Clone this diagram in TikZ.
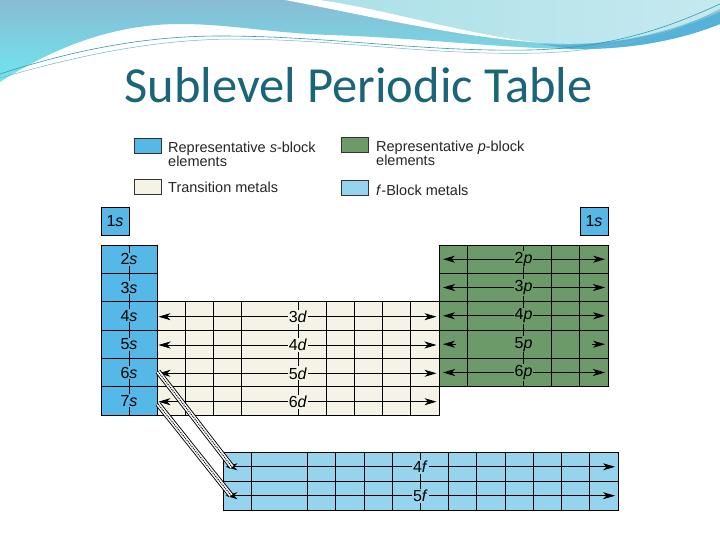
\documentclass[tikz,border=0pt]{standalone}
\usepackage{fontspec}
\setmainfont{Liberation Sans}
\newfontfamily\titlefont{Carlito}
\usetikzlibrary{arrows.meta}
\definecolor{hdrblue}{HTML}{88BCD4}
\definecolor{hdrcyan}{HTML}{6FE6EF}
\definecolor{hdrlight}{HTML}{ACE0E8}
\definecolor{hdrband}{HTML}{55B3DA}
\definecolor{strand}{HTML}{3A98AC}
\definecolor{titleteal}{HTML}{1A6579}
\definecolor{sblue}{HTML}{55B8E6}
\definecolor{fblue}{HTML}{96D3EC}
\definecolor{pgreen}{HTML}{6C9A68}
\definecolor{cream}{HTML}{F4F3E6}
\tikzset{
	cell/.style={black, line width=0.8pt},
	tip/.style={line width=0.8pt, -{Stealth[length=12pt,width=7pt,inset=3.5pt]}},
	rowarrow/.style={line width=0.8pt, {Stealth[length=12pt,width=7pt,inset=3.5pt]}-{Stealth[length=12pt,width=7pt,inset=3.5pt]}},
	lbl/.style={inner sep=1pt, font=\fontsize{16}{16}\selectfont},
	swatch/.style={draw=black!80, line width=0.6pt, minimum width=27pt, minimum height=15pt, inner sep=0pt},
	legtext/.style={anchor=base west, inner sep=0pt, text=black!85, font=\fontsize{14.5}{14.5}\selectfont},
	band/.style={black, line width=5.6pt, postaction={draw, white, line width=3.8pt}, postaction={draw, black, line width=1pt, dash pattern=on 1pt off 1pt}}
}
\begin{document}
\begin{tikzpicture}[x=1pt, y=-1pt]
	\useasboundingbox (0,0) rectangle (720,540);
	\fill[white] (0,0) rectangle (720,540);

	% header waves
	\shade[top color=hdrblue, bottom color=hdrcyan] (0,0) -- (720,0) -- (720,24) .. controls (680,40) and (630,50) .. (570,49) .. controls (500,48) and (420,38) .. (330,35) .. controls (270,33) and (230,24) .. (180,24) .. controls (110,24) and (50,50) .. (0,82) -- cycle;
	\fill[hdrband] (540,44) .. controls (620,48) and (680,30) .. (720,12) -- (720,24) .. controls (680,40) and (630,50) .. (570,49) -- cycle;
	\shade[left color=hdrlight, right color=hdrlight!70!white] (320,0) .. controls (390,10) and (470,36) .. (545,43) .. controls (620,48) and (680,28) .. (720,10) -- (720,0) -- cycle;
	\fill[white] (285,0) .. controls (360,14) and (460,38) .. (545,43) .. controls (470,36) and (390,10) .. (320,0) -- cycle;
	\draw[strand, line width=0.6pt] (0,74) .. controls (80,48) and (150,36) .. (220,36) .. controls (330,36) and (420,52) .. (530,50) .. controls (620,48) and (680,22) .. (720,4);
	\draw[strand!70, line width=0.5pt] (0,78) .. controls (90,52) and (160,40) .. (230,39) .. controls (340,39) and (430,56) .. (540,53) .. controls (630,50) and (690,26) .. (720,9);

	\node[anchor=base, text=titleteal, inner sep=0pt, font=\titlefont\fontsize{50.5}{50.5}\selectfont] (title) at (358.5,103) {Sublevel Periodic Table};

	% legend
	\node[swatch, fill=sblue] (lgs) at (148,146) {};
	\node[legtext] (lgst) at (168,153) {Representative \textit{s}-block};
	\node[legtext] (lgse) at (168,166.7) {elements};
	\node[swatch, fill=cream] (lgd) at (148,186.5) {};
	\node[legtext] (lgdt) at (168,192.5) {Transition metals};
	\node[swatch, fill=pgreen] (lgp) at (354.5,144.5) {};
	\node[legtext] (lgpt) at (376,151.7) {Representative \textit{p}-block};
	\node[legtext] (lgpe) at (376,166) {elements};
	\node[swatch, fill=fblue] (lgf) at (354.5,188.3) {};
	\node[legtext] (lgft) at (376,196) {\textit{f}-Block metals};

	% blocks
	\fill[sblue] (101,207.5) rectangle (129,235);
	\fill[sblue] (580,207.5) rectangle (608,235);
	\fill[sblue] (101,245) rectangle (157,415);
	\fill[cream] (157,301.7) rectangle (439,415);
	\fill[pgreen] (439,245) rectangle (608,386.7);
	\fill[fblue] (223,452) rectangle (618,510);

	\foreach \y in {273.3,301.7,330,358.3,386.7} \draw[cell] (101,\y) -- (157,\y);
	\draw[cell] (129,245) -- (129,415);
	\foreach \y in {330,358.3,386.7} \draw[cell] (157,\y) -- (439,\y);
	\foreach \x in {185.2,213.4,241.6,297.9,326.1,354.3,382.5,410.7} \draw[cell] (\x,301.7) -- (\x,415);
	\foreach \y in {273.3,301.7,330,358.3} \draw[cell] (439,\y) -- (608,\y);
	\foreach \x in {467.2,523.5,551.7,579.8} \draw[cell] (\x,245) -- (\x,386.7);
	\draw[cell] (223,481) -- (618,481);
	\foreach \x in {251.2,307.6,335.8,364,392.2,420.4,448.6,476.8,505,533.2,561.4,589.6} \draw[cell] (\x,452) -- (\x,510);

	\draw[cell] (101,207.5) rectangle (129,235);
	\draw[cell] (580,207.5) rectangle (608,235);
	\draw[cell] (101,245) rectangle (157,415);
	\draw[cell] (157,301.7) rectangle (439,415);
	\draw[cell] (439,245) rectangle (608,386.7);
	\draw[cell] (223,452) rectangle (618,510);

	% row arrows
	\foreach \n/\y in {3/316.7,4/345,5/373.3,6/401.7} {
		\coordinate (d\n-w) at (158.5,\y);
		\coordinate (d\n-e) at (436.5,\y);
		\draw[rowarrow] (d\n-w) -- (d\n-e);
	}
	\foreach \n/\y in {2/259.2,3/287.5,4/315.8,6/372.5} {
		\coordinate (p\n-w) at (443,\y);
		\coordinate (p\n-e) at (605,\y);
		\draw[rowarrow] (p\n-w) -- (p\n-e);
	}
	\coordinate (p5-w) at (443,344.2);
	\coordinate (p5-wt) at (456,344.2);
	\coordinate (p5-e) at (605,344.2);
	\coordinate (p5-et) at (592,344.2);
	\draw[tip] (p5-wt) -- (p5-w);
	\draw[tip] (p5-et) -- (p5-e);
	\foreach \n/\y in {4/466.8,5/495.7} {
		\coordinate (f\n-w) at (225.5,\y);
		\coordinate (f\n-e) at (615,\y);
		\draw[rowarrow] (f\n-w) -- (f\n-e);
	}

	% labels
	\node[lbl] (s1) at (115,221.2) {1\textit{s}};
	\node[lbl] (s1r) at (594,221.2) {1\textit{s}};
	\foreach \n/\y in {2/259.2,3/287.5,4/315.8,5/344.2,6/372.5,7/400.8}
		\node[lbl, fill=sblue] (s\n) at (129,\y) {\n\textit{s}};
	\foreach \n/\y in {3/316.7,4/345,5/373.3,6/401.7}
		\node[lbl, fill=cream] (d\n) at (297.9,\y) {\n\textit{d}};
	\foreach \n/\y in {2/259.2,3/287.5,4/315.8,5/344.2,6/372.5}
		\node[lbl, fill=pgreen] (p\n) at (523.5,\y) {\n\textit{p}};
	\foreach \n/\y in {4/466.8,5/495.7}
		\node[lbl, fill=fblue] (f\n) at (420.4,\y) {\n\textit{f}};

	% into the f block
	\coordinate (s6-e) at (158,371.5);
	\coordinate (s7-e) at (158,404);
	\coordinate (f4-in) at (232,467);
	\coordinate (f5-in) at (231,495.5);
	\draw[band] (s6-e) -- (f4-in);
	\draw[band] (s7-e) -- (f5-in);
\end{tikzpicture}
\end{document}
